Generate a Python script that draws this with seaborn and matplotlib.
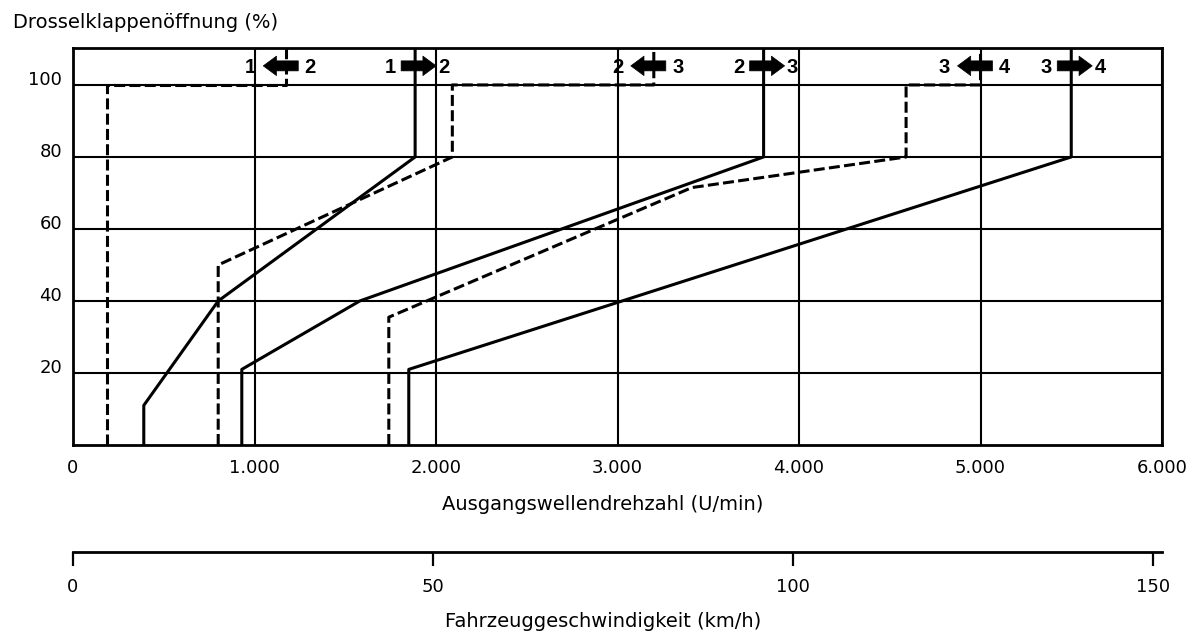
import matplotlib
matplotlib.use("Agg")
import matplotlib.pyplot as plt
from matplotlib.transforms import offset_copy
import pandas as pd
import seaborn as sns

# ---------------------------------------------------------------- data
RPM_MAX = 6000          # right end of the output-shaft speed axis (U/min)
Y_TOP = 110.4           # upper edge of the throttle axis (%)
ARROW_LEVEL = 105.3     # throttle level of the shift-direction markers
KMH_AT_RPM_MAX = 151.2  # vehicle speed that corresponds to RPM_MAX

# upshift lines (solid)
up_12_rpm = [390, 390, 800, 1885, 1885]
up_12_thr = [0, 11, 40, 80, Y_TOP]
up_23_rpm = [930, 930, 1580, 3805, 3805]
up_23_thr = [0, 21, 40, 80, Y_TOP]
up_34_rpm = [1850, 1850, 5500, 5500]
up_34_thr = [0, 21, 80, Y_TOP]

# downshift lines (dashed)
down_21_rpm = [190, 190, 1175, 1175]
down_21_thr = [0, 100, 100, Y_TOP]
down_32_rpm = [800, 800, 2090, 2090, 3200, 3200]
down_32_thr = [0, 50, 80, 100, 100, Y_TOP]
down_43_rpm = [1740, 1740, 3410, 4590, 4590, 5000, 5000]
down_43_thr = [0, 35.5, 71.5, 80, 100, 100, Y_TOP]

# shift markers, one per line, left to right
marker_lower = ["1", "1", "2", "2", "3", "3"]
marker_upper = ["2", "2", "3", "3", "4", "4"]

rpm_ticks = [0, 1000, 2000, 3000, 4000, 5000, 6000]
rpm_labels = ["0", "1.000", "2.000", "3.000", "4.000", "5.000", "6.000"]
thr_ticks = [20, 40, 60, 80, 100]
kmh_ticks = [0, 50, 100, 150]

# lines in marker order: (name, kind, rpm, throttle)
lines = [
    ("1<-2", "runter", down_21_rpm, down_21_thr),
    ("1->2", "hoch", up_12_rpm, up_12_thr),
    ("2<-3", "runter", down_32_rpm, down_32_thr),
    ("2->3", "hoch", up_23_rpm, up_23_thr),
    ("3<-4", "runter", down_43_rpm, down_43_thr),
    ("3->4", "hoch", up_34_rpm, up_34_thr),
]

df = pd.concat(
    [pd.DataFrame({"rpm": r, "thr": t, "line": name, "kind": kind})
     for name, kind, r, t in lines],
    ignore_index=True,
)

# ---------------------------------------------------------------- style
sns.set_style("white")
plt.rcParams["font.family"] = ["DejaVu Sans"]
plt.rcParams["text.color"] = "black"
plt.rcParams["axes.labelcolor"] = "black"
plt.rcParams["xtick.color"] = "black"
plt.rcParams["ytick.color"] = "black"

W, H = 1204, 636
fig = plt.figure(figsize=(W / 100, H / 100), dpi=100, facecolor="white")

ax_left, ax_right, ax_top, ax_bottom = 73, 1162, 47.5, 445
ax = fig.add_axes([ax_left / W, 1 - ax_bottom / H,
                   (ax_right - ax_left) / W, (ax_bottom - ax_top) / H])

sns.lineplot(
    data=df, x="rpm", y="thr", units="line", estimator=None, sort=False,
    style="kind", dashes={"hoch": "", "runter": (3.6, 1.4)},
    color="black", lw=2.2, legend=False, ax=ax, zorder=3,
)

ax.set_xlim(0, RPM_MAX)
ax.set_ylim(0, Y_TOP)
ax.set_xticks(rpm_ticks, rpm_labels)
ax.set_yticks(thr_ticks)
ax.tick_params(axis="both", length=0, labelsize=13)
ax.tick_params(axis="x", pad=10.2)
ax.tick_params(axis="y", pad=8.0)
for lbl in ax.get_yticklabels():
    lbl.set_verticalalignment("baseline")

ax.grid(True, color="black", lw=1.5)
ax.set_axisbelow(True)
for sp in ax.spines.values():
    sp.set_visible(True)
    sp.set_color("black")
    sp.set_linewidth(2.0)

ax.set_ylabel("")
ax.set_xlabel("Ausgangswellendrehzahl (U/min)", fontsize=14, va="baseline")
ax.xaxis.set_label_coords((603 - ax_left) / (ax_right - ax_left),
                          (ax_bottom - 510) / (ax_bottom - ax_top))

fig.text(13.4 / W, 1 - 28.3 / H, "Drosselklappenöffnung (%)",
         fontsize=14, ha="left", va="baseline")

# ---------------------------------------------------------------- shift markers
arrow_style = "simple,head_length=0.95,head_width=1.4,tail_width=0.72"


def shifted(dx, dy=0):
    return offset_copy(ax.transData, fig=fig, x=dx, y=dy, units="dots")


for (name, kind, r, t), low, high in zip(lines, marker_lower, marker_upper):
    x = r[-1]
    if kind == "runter":
        tip, tail, lab_low, lab_high = -23, 12, -36, 24
    else:
        tip, tail, lab_low, lab_high = 21, -14, -25, 29
    ax.annotate(
        "", xy=(x, ARROW_LEVEL), xycoords=shifted(tip),
        xytext=(x, ARROW_LEVEL), textcoords=shifted(tail),
        arrowprops=dict(arrowstyle=arrow_style, mutation_scale=10,
                        fc="black", ec="black", lw=0.5,
                        shrinkA=0, shrinkB=0),
        zorder=4,
    )
    for txt, dx in ((low, lab_low), (high, lab_high)):
        ax.text(x, ARROW_LEVEL, txt, transform=shifted(dx, -7),
                ha="center", va="baseline", fontsize=14.5,
                fontweight="bold", family=["Liberation Sans", "DejaVu Sans"],
                zorder=5)

# ---------------------------------------------------------------- vehicle speed scale
speed_line_y = 551.7
ax2 = fig.add_axes([ax_left / W, 1 - speed_line_y / H,
                    (ax_right - ax_left) / W, 1e-6])
ax2.patch.set_visible(False)
ax2.set_xlim(0, KMH_AT_RPM_MAX)
ax2.set_yticks([])
for side in ("top", "left", "right"):
    ax2.spines[side].set_visible(False)
ax2.spines["bottom"].set_linewidth(2.0)
ax2.spines["bottom"].set_color("black")
ax2.set_xticks(kmh_ticks, [str(v) for v in kmh_ticks])
ax2.tick_params(axis="x", direction="out", length=10, width=1.6,
                pad=8.8, labelsize=13, bottom=True)

fig.text(603 / W, 1 - 627 / H, "Fahrzeuggeschwindigkeit (km/h)",
         fontsize=14, ha="center", va="baseline")

fig.savefig("out.png", dpi=100, facecolor="white")
